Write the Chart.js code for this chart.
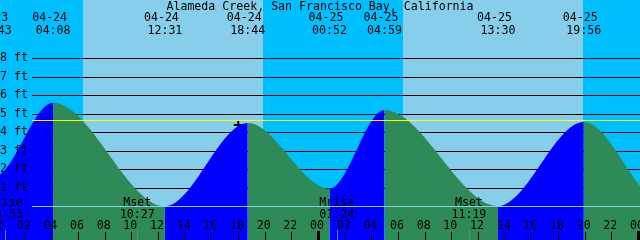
<!DOCTYPE html>
<html>
<head>
<meta charset="utf-8">
<title>Alameda Creek, San Francisco Bay, California</title>
<script src="https://cdn.jsdelivr.net/npm/chart.js@4.4.1/dist/chart.umd.min.js"></script>
<style>
  html, body { margin: 0; padding: 0; background: #fff; }
  #wrap { width: 640px; height: 240px; }
</style>
</head>
<body>
<div id="wrap"><canvas id="tide-chart" width="640" height="240"></canvas></div>
<script>
/**
 * Chart data (hours are counted from 04-24 00:00)
 */
const chartTitle = 'Alameda Creek, San Francisco Bay, California'

//High / low tides, first and last ones only shape the curve off screen
const tideHours = [-6.5, -0.283, 4.133, 12.517, 18.733, 24.867, 28.983, 37.5, 43.933, 50.0, 56.2]
const tideFeet  = [4.4, 1.6, 5.6, 0.0, 4.5, 0.95, 5.2, 0.0, 4.55, 0.1, 4.9]
const tideDates = ['04-23', '04-23', '04-24', '04-24', '04-24', '04-25', '04-25', '04-25', '04-25', '04-26', '04-26']
const tideClock = ['17:30', '23:43', '04:08', '12:31', '18:44', '00:52', '04:59', '13:30', '19:56', '02:00', '08:12']

//Sun
const sunRise = [6.35, 30.4]
const sunSet  = [19.9, 43.9]

//Moon
const moonHours = [0.55, 10.45, 25.4, 35.317]
const moonNames = ['Mrise', 'Mset', 'Mrise', 'Mset']
const moonClock = ['00:33', '10:27', '01:24', '11:19']

//Axes
const hourTicks  = [0, 2, 4, 6, 8, 10, 12, 14, 16, 18, 20, 22, 24, 26, 28, 30, 32, 34, 36, 38, 40, 42, 44, 46, 48]
const hourLabels = ['00', '02', '04', '06', '08', '10', '12', '14', '16', '18', '20', '22',
                    '00', '02', '04', '06', '08', '10', '12', '14', '16', '18', '20', '22', '00']
const midnights  = [0, 24, 48]
const ftTicks    = [1, 2, 3, 4, 5, 6, 7, 8]
const ftLabels   = ['1 ft', '2 ft', '3 ft', '4 ft', '5 ft', '6 ft', '7 ft', '8 ft']
const markLevel  = 4.65
const datumLevel = 0

//Current time mark
const nowHour = 18.02
const nowFeet = 4.39

/**
 * Colours / font
 */
const NIGHT = '#00bfff',
      DAY   = '#87ceeb',
      FLOOD = '#0000ff',
      EBB   = '#2e8b57',
      MARK  = '#ffff00',
      MOON  = '#708090',
      FONT  = '11.6px "DejaVu Sans Mono", monospace'

const LINE_START = 32

function crisp (v) {
  return Math.round(v) + 0.5
}

/**
 * Background: day / night bands and foot lines (behind the tide)
 */
const tideBackdrop = {
  id: 'tideBackdrop',
  beforeDatasetsDraw (chart) {
    let {ctx, chartArea: a, scales: {x, y}} = chart
    ctx.save()
    ctx.fillStyle = NIGHT
    ctx.fillRect(a.left, a.top, a.width, a.height)
    ctx.fillStyle = DAY
    sunRise.forEach(function (r, i) {
      let x0 = Math.round(x.getPixelForValue(r)),
          x1 = Math.round(x.getPixelForValue(sunSet[i]))
      ctx.fillRect(x0, a.top, x1 - x0, a.height)
    })

    ctx.strokeStyle = '#000'
    ctx.lineWidth = 1
    ftTicks.forEach(function (ft) {
      let py = crisp(y.getPixelForValue(ft))
      ctx.beginPath()
      ctx.moveTo(LINE_START, py)
      ctx.lineTo(a.right, py)
      ctx.stroke()
    })
    ctx.restore()
  }
}

/**
 * Foreground: datum + mark lines, labels, ticks
 */
const tideOverlay = {
  id: 'tideOverlay',
  afterDatasetsDraw (chart) {
    let {ctx, chartArea: a, scales: {x, y}} = chart
    ctx.save()

    //Datum and mark level
    ctx.lineWidth = 1
    ctx.strokeStyle = DAY
    let py = crisp(y.getPixelForValue(datumLevel))
    ctx.beginPath()
    ctx.moveTo(LINE_START, py)
    ctx.lineTo(a.right, py)
    ctx.stroke()
    ctx.strokeStyle = MARK
    py = crisp(y.getPixelForValue(markLevel))
    ctx.beginPath()
    ctx.moveTo(LINE_START, py)
    ctx.lineTo(a.right, py)
    ctx.stroke()

    ctx.font = FONT
    ctx.fillStyle = '#000'

    //Foot labels
    ctx.textAlign = 'left'
    ctx.textBaseline = 'middle'
    ftTicks.forEach(function (ft, i) {
      ctx.fillText(ftLabels[i], 0, y.getPixelForValue(ft))
    })

    ctx.textBaseline = 'alphabetic'
    ctx.textAlign = 'center'

    //Title
    ctx.fillText(chartTitle, (a.left + a.right) / 2, 9.5)

    //High / low times
    tideHours.forEach(function (h, i) {
      let px = x.getPixelForValue(h)
      ctx.fillText(tideDates[i], px - 3.5, 20.8)
      ctx.fillText(tideClock[i], px, 34)
    })

    //Moon events
    moonHours.forEach(function (h, i) {
      let px = x.getPixelForValue(h)
      ctx.fillText(moonNames[i], px, 205.5)
      ctx.fillText(moonClock[i], px, 217.7)
    })

    //Hour labels and ticks
    hourTicks.forEach(function (h, i) {
      let px = x.getPixelForValue(h)
      ctx.fillText(hourLabels[i], px - 1, 229.3)
      ctx.fillRect(Math.round(px), 232, 1, 8)
    })
    midnights.forEach(function (h) {
      let px = x.getPixelForValue(h)
      ctx.fillRect(Math.round(px) - 1, 231, 3, 9)
    })
    ctx.fillStyle = MOON
    moonHours.forEach(function (h) {
      ctx.fillRect(Math.round(x.getPixelForValue(h)), 230, 1, 10)
    })

    ctx.restore()
  }
}

/**
 * Chart
 */
let tideChart = new Chart(document.getElementById('tide-chart'), {
  type   : 'line',
  data   : {
    datasets: [{
      label                 : 'Tide',
      data                  : tideHours.map((h, i) => ({x: h, y: tideFeet[i]})),
      fill                  : 'start',
      backgroundColor       : FLOOD,
      borderColor           : 'rgba(0,0,0,0)',
      borderWidth           : 0,
      pointRadius           : 0,
      cubicInterpolationMode: 'monotone',
      segment               : {
        backgroundColor: c => (c.p1.parsed.y > c.p0.parsed.y) ? FLOOD : EBB
      }
    }, {
      type       : 'scatter',
      label      : 'Now',
      data       : [{x: nowHour, y: nowFeet}],
      pointStyle : 'cross',
      pointRadius: 4.5,
      borderColor: '#000',
      borderWidth: 2
    }]
  },
  options: {
    responsive: false,
    animation : false,
    events    : [],
    layout    : {padding: 0, autoPadding: false},
    plugins   : {
      legend : {display: false},
      title  : {display: false},
      tooltip: {enabled: false}
    },
    scales    : {
      x: {type: 'linear', min: 0.15, max: 48.15, display: false},
      y: {type: 'linear', min: -1.828, max: 11.152, display: false}
    }
  },
  plugins: [tideBackdrop, tideOverlay]
})
</script>
</body>
</html>
